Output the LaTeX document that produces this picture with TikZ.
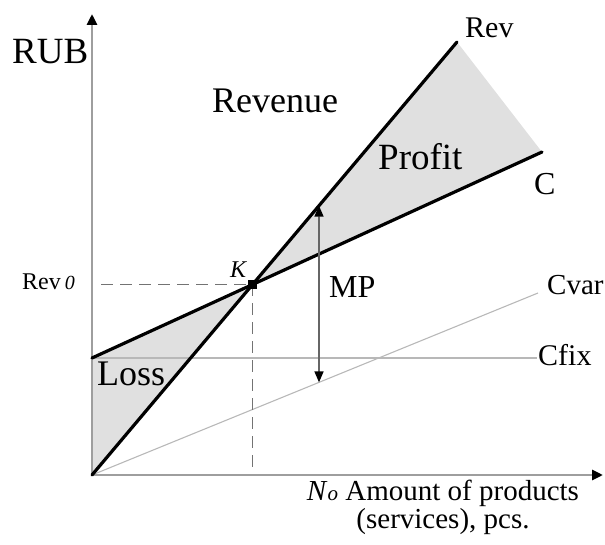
\documentclass[tikz,border=0pt]{standalone}
\usepackage{fontspec}
\setmainfont{Liberation Serif}
\usetikzlibrary{arrows.meta}
\begin{document}
\begin{tikzpicture}[x=1pt,y=-1pt,
  axis/.style={line width=2.8pt, draw=black!38, -{Triangle[length=11pt,width=10pt,color=black]}},
  mainline/.style={line width=3.2pt, draw=black, line cap=round},
  thinline/.style={line width=1.1pt, draw=black!28},
  guide/.style={line width=1.8pt, draw=black!55, dash pattern=on 12pt off 7pt},
  shade/.style={fill=black!12},
  lbl/.style={inner sep=0pt, anchor=base west},
  mparrow/.style={line width=1.6pt, draw=black!60,
    {Triangle[length=11pt,width=9pt,color=black]}-{Triangle[length=11pt,width=9pt,color=black]}},
]
\useasboundingbox (0,0) rectangle (605,545);
% key points
\coordinate (O) at (92,475);
\coordinate (Ytip) at (92,14);
\coordinate (Xtip) at (603,475);
\coordinate (RevEnd) at (457,42);
\coordinate (C0) at (92,358);
\coordinate (CEnd) at (542,152);
\coordinate (CfixEnd) at (537,358);
\coordinate (CvarEnd) at (538,293);
\coordinate (K) at (intersection of O--RevEnd and C0--CEnd);
\coordinate (mpA) at (319,0);
\coordinate (mpB) at (319,540);
\coordinate (MPt) at (intersection of O--RevEnd and mpA--mpB);
\coordinate (MPb) at (intersection of O--CvarEnd and mpA--mpB);
\coordinate (gx) at (101,0);
\coordinate (gy) at (0,468);
% shaded regions
\fill[shade] (O) -- (C0) -- (K) -- cycle;
\fill[shade] (K) -- (RevEnd) -- (CEnd) -- cycle;
% thin cost lines
\draw[thinline] (C0) -- (CfixEnd);
\draw[thinline] (O) -- (CvarEnd);
% guides
\draw[guide] (K -| gx) -- (K);
\draw[guide] (K) -- (K |- gy);
% axes
\draw[axis] (O) -- (Ytip);
\draw[axis] (O) -- (Xtip);
% main lines
\draw[mainline] (O) -- (RevEnd);
\draw[mainline] (C0) -- (CEnd);
% MP arrow
\draw[mparrow] (MPt) -- (MPb);
% break-even point
\node[fill=black, minimum size=9pt, inner sep=0pt] (ksq) at (K) {};
% labels
\node[lbl, font=\fontsize{37}{40}\selectfont] (rub) at (12,64) {RUB};
\node[lbl, font=\fontsize{36}{40}\selectfont] (revenue) at (212,113) {Revenue};
\node[lbl, font=\fontsize{37}{40}\selectfont] (profit) at (378,170) {Profit};
\node[lbl, font=\fontsize{36}{40}\selectfont] (loss) at (97,385) {Loss};
\node[lbl, font=\fontsize{30}{32}\selectfont] (rev) at (465,38) {Rev};
\node[lbl, font=\fontsize{32}{34}\selectfont] (c) at (534,195) {C};
\node[lbl, font=\fontsize{29}{32}\selectfont] (cvar) at (547,295) {Cvar};
\node[lbl, font=\fontsize{30}{32}\selectfont] (cfix) at (538,365) {Cfix};
\node[lbl, font=\fontsize{32}{34}\selectfont] (mp) at (329,298) {MP};
\node[lbl, font=\fontsize{24}{26}\selectfont\itshape] (k) at (230,278) {K};
\node[lbl, font=\fontsize{24}{26}\selectfont] (rev0) at (22,290) {Rev\hspace{4pt}{\fontsize{20}{20}\selectfont\itshape 0}};
\node[inner sep=0pt, align=center, font=\fontsize{29}{25}\selectfont] (xlabel) at (443,507.5)
  {\textit{N}{\fontsize{21}{21}\selectfont\itshape o} Amount of products\\(services), pcs.};
\end{tikzpicture}
\end{document}
